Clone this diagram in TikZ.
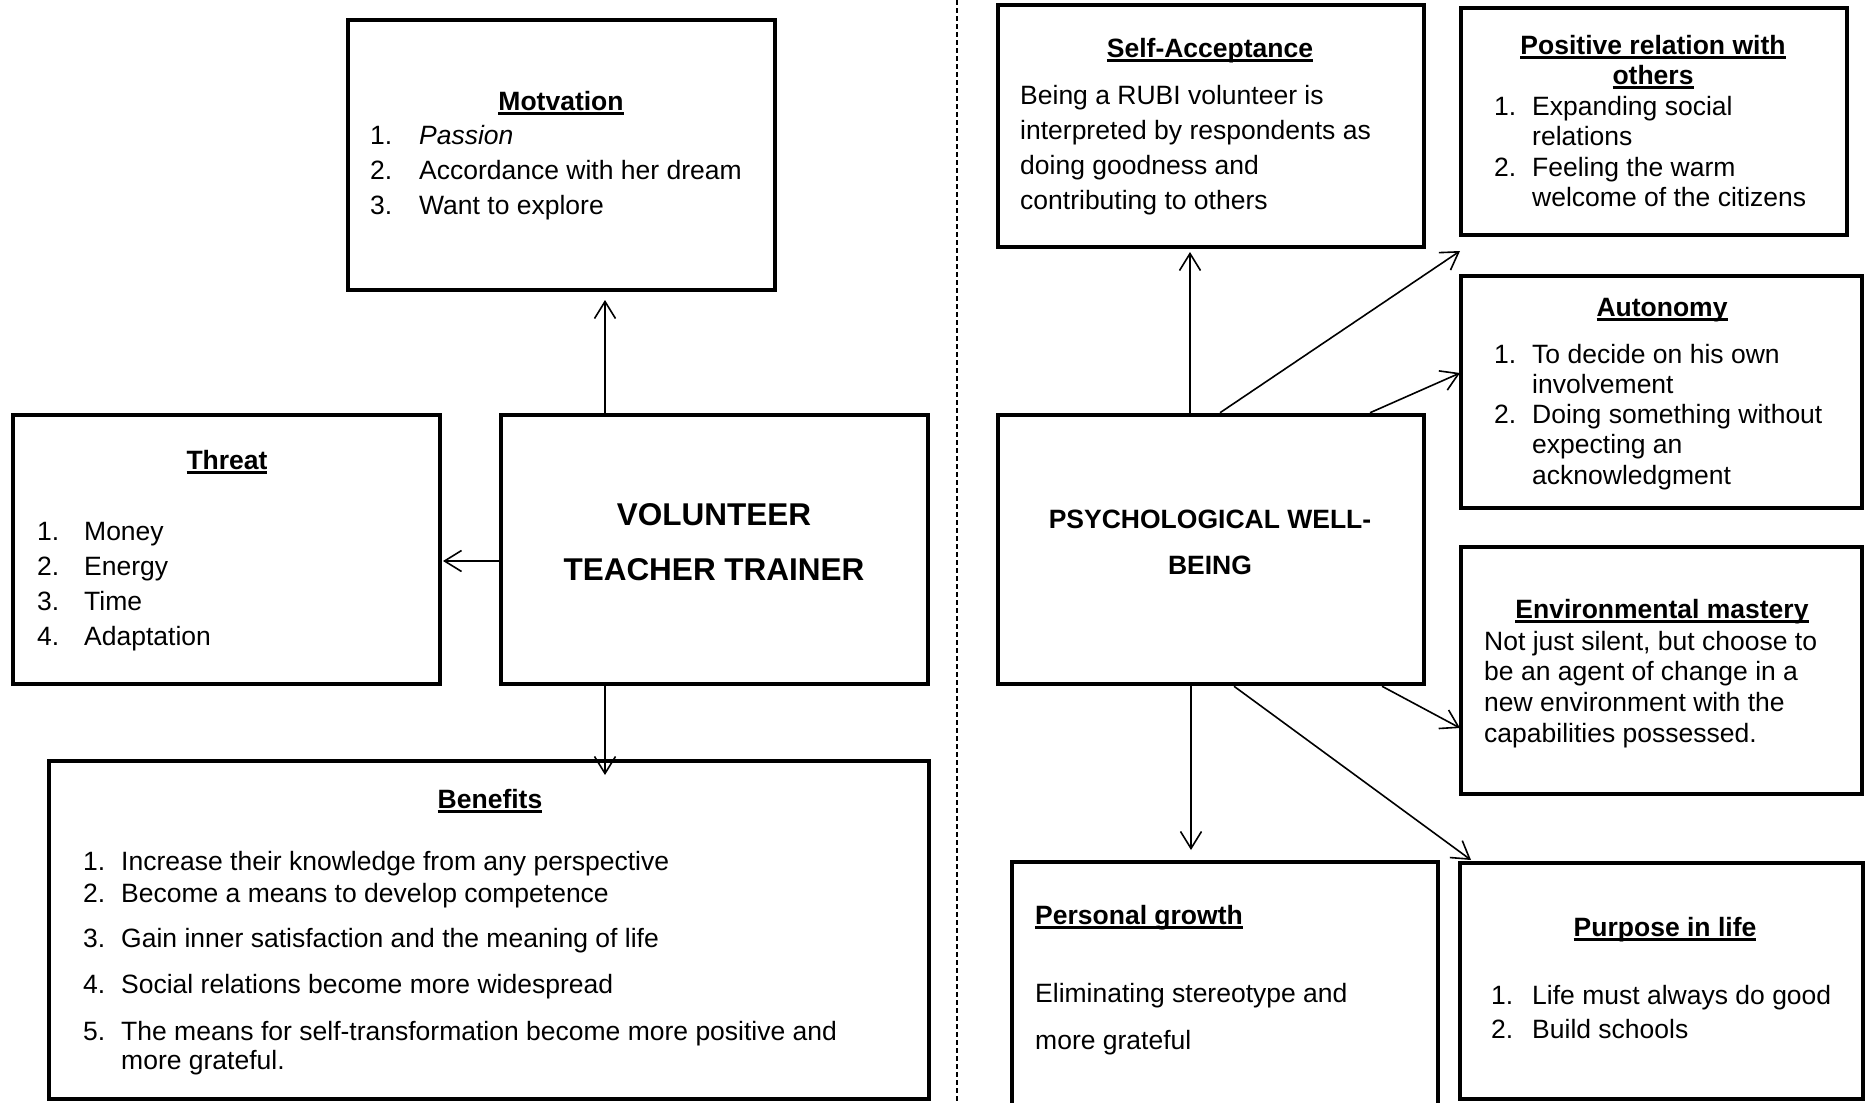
\documentclass[tikz,border=0pt]{standalone}
\usepackage{fontspec}
\setmainfont{Liberation Sans}
\usetikzlibrary{arrows.meta,fit}

\newsavebox{\ttlbox}
\newcommand{\ttl}[1]{\sbox{\ttlbox}{\bfseries #1}\rlap{\vrule height -2pt depth 4.5pt width \wd\ttlbox}\usebox{\ttlbox}}
\newcommand{\txtsize}[1]{\fontsize{26.5pt}{#1}\selectfont}

\tikzset{
	box/.style={draw, line width=4.5pt, inner sep=0pt},
	arr/.style={-{Straight Barb[length=17pt,width=21pt]}, line width=1.6pt},
	hd/.style={anchor=base, inner sep=0pt, font=\txtsize{30pt}\bfseries},
	lst/.style={anchor=base west, inner sep=0pt, font=\txtsize{30pt}},
}

\begin{document}
\begin{tikzpicture}[x=1pt, y=-1pt]
	\useasboundingbox (0,0) rectangle (1866,1103);
	\clip (0,0) rectangle (1866,1103);

	% left half
	\node[box, fit={(348,20) (775,290)}] (motiv) {};
	\node[box, fit={(13,415) (440,684)}] (threat) {};
	\node[box, fit={(501,415) (928,684)}] (vol) {};
	\node[box, fit={(49,761) (929,1099)}] (benef) {};

	% right half
	\node[box, fit={(998,5) (1424,247)}] (selfacc) {};
	\node[box, fit={(1461,8) (1847,235)}] (posrel) {};
	\node[box, fit={(1461,276) (1862,508)}] (auton) {};
	\node[box, fit={(998,415) (1424,684)}] (pwb) {};
	\node[box, fit={(1461,547) (1862,794)}] (envir) {};
	\node[box, fit={(1012,862) (1438,1130)}] (growth) {};
	\node[box, fit={(1460,863) (1863,1099)}] (purpose) {};

	\draw[line width=1.2pt, dash pattern=on 5pt off 3pt] (957,0) -- (957,1103);

	% arrow ends
	\coordinate (aMot) at (605,300);
	\coordinate (aThr) at (443,561);
	\coordinate (aBen) at (605,775);
	\coordinate (aSelf) at (1190,252);
	\coordinate (sPos) at (1220,0);
	\coordinate (aPos) at (1460,251);
	\coordinate (sAut) at (1370,0);
	\coordinate (aAut) at (1460,373);
	\coordinate (sEnv) at (1382,0);
	\coordinate (aEnv) at (1460,728);
	\coordinate (aGro) at (1191,850);
	\coordinate (sPur) at (1234,0);
	\coordinate (aPur) at (1471,860);

	\draw[arr] (vol.north -| aMot) -- (aMot);
	\draw[arr] (vol.west |- aThr) -- (aThr);
	\draw[arr] (vol.south -| aBen) -- (aBen);
	\draw[arr] (pwb.north -| aSelf) -- (aSelf);
	\draw[arr] (pwb.north -| sPos) -- (aPos);
	\draw[arr] (pwb.north -| sAut) -- (aAut);
	\draw[arr] (pwb.south -| sEnv) -- (aEnv);
	\draw[arr] (pwb.south -| aGro) -- (aGro);
	\draw[arr] (pwb.south -| sPur) -- (aPur);

	% texts, left
	\node[hd] (motivH) at (561,110) {\ttl{Motvation}};
	\node[lst] (motivL) at (370,144) {\txtsize{35pt}\begin{tabular}[t]{@{}p{49pt}@{}l@{}}
		1.&\textit{Passion}\\ 2.&Accordance with her dream\\ 3.&Want to explore\end{tabular}};

	\node[hd] (threatH) at (227,469) {\ttl{Threat}};
	\node[lst] (threatL) at (37,540) {\txtsize{35pt}\begin{tabular}[t]{@{}p{47pt}@{}l@{}}
		1.&Money\\ 2.&Energy\\ 3.&Time\\ 4.&Adaptation\end{tabular}};

	\node[anchor=base, inner sep=0pt, font=\fontsize{31.5pt}{55pt}\selectfont\bfseries] (volT) at (714,525)
		{\begin{tabular}[t]{@{}c@{}}VOLUNTEER\\ TEACHER TRAINER\end{tabular}};

	\node[hd] (benefH) at (490,808) {\ttl{Benefits}};
	\node[lst] (benefL) at (83,870) {\txtsize{30pt}\begin{tabular}[t]{@{}p{38pt}@{}l@{}}
		1.&Increase their knowledge from any perspective\\[2pt]
		2.&Become a means to develop competence\\[15pt]
		3.&Gain inner satisfaction and the meaning of life\\[16pt]
		4.&Social relations become more widespread\\[17pt]
		5.&The means for self-transformation become more positive and\\[-1pt]
		&more grateful.\end{tabular}};

	% texts, right
	\node[hd] (selfaccH) at (1210,57) {\ttl{Self-Acceptance}};
	\node[lst] (selfaccL) at (1020,104) {\txtsize{35pt}\begin{tabular}[t]{@{}l@{}}
		Being a RUBI volunteer is\\ interpreted by respondents as\\ doing goodness and\\ contributing to others\end{tabular}};

	\node[hd] (posrelH) at (1653,54) {\begin{tabular}[t]{@{}c@{}}\ttl{Positive relation with}\\ \ttl{others}\end{tabular}};
	\node[lst] (posrelL) at (1494,115) {\txtsize{30.5pt}\begin{tabular}[t]{@{}p{38pt}@{}l@{}}
		1.&Expanding social\\ &relations\\ 2.&Feeling the warm\\ &welcome of the citizens\end{tabular}};

	\node[hd] (autonH) at (1662,316) {\ttl{Autonomy}};
	\node[lst] (autonL) at (1494,363) {\txtsize{30.25pt}\begin{tabular}[t]{@{}p{38pt}@{}l@{}}
		1.&To decide on his own\\ &involvement\\ 2.&Doing something without\\ &expecting an\\ &acknowledgment\end{tabular}};

	\node[anchor=base, inner sep=0pt, font=\fontsize{26.5pt}{46pt}\selectfont\bfseries] (pwbT) at (1210,528)
		{\begin{tabular}[t]{@{}c@{}}PSYCHOLOGICAL WELL-\\ BEING\end{tabular}};

	\node[hd] (envirH) at (1662,618) {\ttl{Environmental mastery}};
	\node[lst] (envirL) at (1484,650) {\txtsize{30.7pt}\begin{tabular}[t]{@{}l@{}}
		Not just silent, but choose to\\ be an agent of change in a\\ new environment with the\\ capabilities possessed.\end{tabular}};

	\node[hd, anchor=base west] (growthH) at (1035,924) {\ttl{Personal growth}};
	\node[lst] (growthL) at (1035,1002) {\txtsize{47pt}\begin{tabular}[t]{@{}l@{}}
		Eliminating stereotype and\\ more grateful\end{tabular}};

	\node[hd] (purposeH) at (1665,936) {\ttl{Purpose in life}};
	\node[lst] (purposeL) at (1491,1004) {\txtsize{34pt}\begin{tabular}[t]{@{}p{41pt}@{}l@{}}
		1.&Life must always do good\\ 2.&Build schools\end{tabular}};
\end{tikzpicture}
\end{document}
